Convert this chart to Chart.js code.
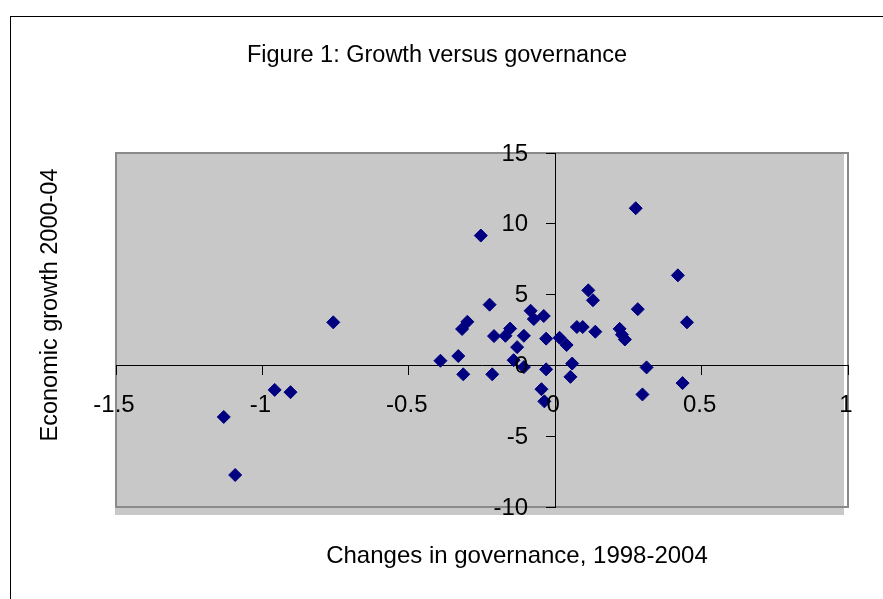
<!DOCTYPE html>
<html>
<head>
<meta charset="utf-8">
<style>
  html, body { margin: 0; padding: 0; background: #ffffff; }
  #wrap { width: 883px; height: 599px; position: relative; }
</style>
<script src="https://cdn.jsdelivr.net/npm/chart.js@4.4.1/dist/chart.umd.min.js"></script>
</head>
<body>
<div id="wrap"><canvas id="c" width="883" height="599"></canvas></div>
<script>
// ---- data ----
const governanceChange = [
  -0.254, -0.758, -0.224, -0.300, -0.318, -0.209, -0.392, -0.331, -0.314, -0.215,
  -0.958, -0.904, -1.132, -1.093, 0.275, 0.419, 0.113, 0.129, 0.282, 0.450,
  -0.084, -0.073, -0.039, -0.170, -0.154, -0.107, -0.031, -0.130, -0.142, -0.107,
  -0.031, -0.047, -0.037, 0.015, 0.039, 0.058, 0.052, 0.074, 0.094, 0.137,
  0.220, 0.228, 0.238, 0.312, 0.298, 0.435
];
const economicGrowth = [
  9.17, 3.04, 4.29, 3.08, 2.57, 2.07, 0.33, 0.66, -0.63, -0.63,
  -1.73, -1.89, -3.64, -7.74, 11.10, 6.36, 5.30, 4.60, 3.97, 3.04,
  3.86, 3.27, 3.49, 2.09, 2.60, 2.09, 1.89, 1.29, 0.37, -0.12,
  -0.28, -1.68, -2.54, 1.95, 1.44, 0.13, -0.81, 2.71, 2.71, 2.38,
  2.58, 2.17, 1.83, -0.14, -2.05, -1.25
];
const xTickValues = [-1.5, -1, -0.5, 0, 0.5, 1];
const yTickValues = [-10, -5, 0, 5, 10, 15];
const chartTitle = 'Figure 1: Growth versus governance';
const xAxisTitle = 'Changes in governance, 1998-2004';
const yAxisTitle = 'Economic growth 2000-04';

const points = governanceChange.map((g, i) => ({ x: g, y: economicGrowth[i] }));

const FONT = '"Liberation Sans", Arial, Helvetica, sans-serif';
Chart.defaults.font.family = FONT;
Chart.defaults.color = '#000000';

// shift tick labels of an axis placed inside the chart area
function shiftLabels(scale, dx, dy) {
  if (scale._shiftPatched) return;
  scale._shiftPatched = true;
  const orig = scale._computeLabelItems;
  scale._computeLabelItems = function (ca) {
    const items = orig.call(this, ca);
    items.forEach(it => {
      const o = it.options || it;
      if (o.translation) o.translation = [o.translation[0] + dx, o.translation[1] + dy];
    });
    return items;
  };
}

const decorPlugin = {
  id: 'decor',
  beforeDraw(chart) {
    const ctx = chart.ctx;
    const a = chart.chartArea;
    ctx.save();
    // outer chart frame
    ctx.strokeStyle = '#000000';
    ctx.lineWidth = 1;
    ctx.strokeRect(10.5, 16.5, 1000, 1000);
    // plot area fill (slightly offset, like the original)
    ctx.fillStyle = '#c8c8c8';
    ctx.fillRect(a.left - 1, a.top, (a.right - a.left) - 3, (a.bottom - a.top) + 8);
    // plot area border
    ctx.strokeStyle = '#8a8a8a';
    ctx.lineWidth = 2;
    ctx.strokeRect(a.left, a.top, a.right - a.left, a.bottom - a.top);
    // titles
    ctx.fillStyle = '#000000';
    ctx.textAlign = 'center';
    ctx.textBaseline = 'alphabetic';
    ctx.font = '23.5px ' + FONT;
    ctx.fillText(chartTitle, 437, 62);
    ctx.font = '24px ' + FONT;
    ctx.fillText(xAxisTitle, 517, 563);
    ctx.font = '23.5px ' + FONT;
    ctx.translate(56.5, 305);
    ctx.rotate(-Math.PI / 2);
    ctx.fillText(yAxisTitle, 0, 0);
    ctx.restore();
  }
};

new Chart(document.getElementById('c'), {
  type: 'scatter',
  data: {
    datasets: [{
      data: points,
      pointStyle: 'rectRot',
      pointRadius: 6.5,
      pointHoverRadius: 6.5,
      backgroundColor: '#000080',
      borderColor: '#000080',
      borderWidth: 1
    }]
  },
  options: {
    responsive: false,
    animation: false,
    devicePixelRatio: 1,
    layout: { padding: { left: 116, right: 35, top: 153, bottom: 92 } },
    plugins: {
      legend: { display: false },
      title: { display: false },
      tooltip: { enabled: false }
    },
    scales: {
      x: {
        type: 'linear',
        position: { y: 0 },
        min: -1.5,
        max: 1,
        afterBuildTicks(scale) { scale.ticks = xTickValues.map(v => ({ value: v })); },
        afterUpdate(scale) { shiftLabels(scale, -2, 0); },
        ticks: {
          z: 1,
          font: { size: 24 },
          color: '#000000',
          padding: 17,
          maxRotation: 0,
          autoSkip: false,
          callback: v => String(v)
        },
        grid: { drawOnChartArea: false, drawTicks: true, tickLength: 9, color: '#000000' },
        border: { display: true, color: '#000000', width: 1 }
      },
      y: {
        type: 'linear',
        position: { x: 0 },
        min: -10,
        max: 15,
        afterBuildTicks(scale) { scale.ticks = yTickValues.map(v => ({ value: v })); },
        afterUpdate(scale) { shiftLabels(scale, -27, 1); },
        ticks: {
          z: 1,
          font: { size: 24 },
          color: '#000000',
          padding: 18,
          autoSkip: false,
          callback: v => String(v)
        },
        grid: { drawOnChartArea: false, drawTicks: true, tickLength: 9, color: '#000000' },
        border: { display: true, color: '#000000', width: 1 }
      }
    }
  },
  plugins: [decorPlugin]
});
</script>
</body>
</html>
